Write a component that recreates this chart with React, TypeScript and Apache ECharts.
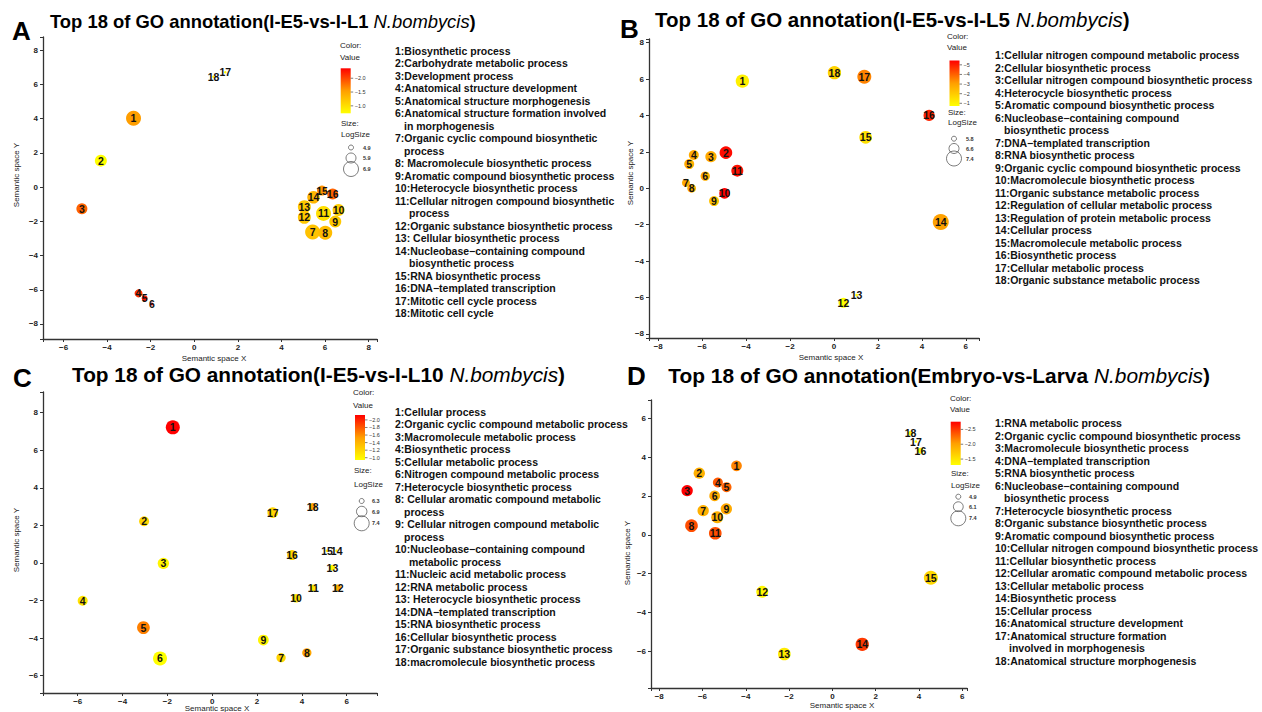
import React, { useEffect, useRef } from "react";
import * as echarts from "echarts";

const FONT = "'Liberation Sans', Arial, Helvetica, sans-serif";
const RED = "#ff0000";
const ORANGE = "#ff9f00";
const YELLOW = "#ffff00";

// ---------------- Panel A : I-E5-vs-I-L1 ----------------
const aComparison = "I-E5-vs-I-L1";
const aX = [-2.79, -4.29, -5.16, -2.56, -2.28, -1.95, 5.43, 6.01, 6.47, 6.62, 5.93, 5.05, 5.05, 5.47, 5.86, 6.35, 1.42, 0.88];
const aY = [4.01, 1.54, -1.27, -6.21, -6.5, -6.83, -2.63, -2.67, -2.02, -1.34, -1.54, -1.77, -1.15, -0.6, -0.21, -0.41, 6.7, 6.44];
const aValue = [-1.55, -0.73, -1.85, -2.1, -2.25, -2.36, -1.25, -1.3, -1.2, -1.15, -1.0, -1.2, -1.2, -1.35, -1.6, -1.85, -0.8, -0.8];
const aLogSize = [6.9, 6.3, 6.1, 5.5, 5.1, 4.5, 6.9, 6.7, 6.3, 6.3, 6.9, 6.5, 6.5, 6.4, 5.9, 6.1, 4.4, 4.4];
const aTerms = [
  "Biosynthetic process",
  "Carbohydrate metabolic process",
  "Development process",
  "Anatomical structure development",
  "Anatomical structure morphogenesis",
  "Anatomical structure formation involved|in morphogenesis",
  "Organic cyclic compound biosynthetic|process",
  " Macromolecule biosynthetic process",
  "Aromatic compound biosynthetic process",
  "Heterocycle biosynthetic process",
  "Cellular nitrogen compound biosynthetic|process",
  "Organic substance biosynthetic process",
  " Cellular biosynthetic process",
  "Nucleobase\u2212containing compound|biosynthetic process",
  "RNA biosynthetic process",
  "DNA\u2212templated transcription",
  "Mitotic cell cycle process",
  "Mitotic cell cycle",
];
const aColorTicks = [-2.0, -1.5, -1.0];
const aSizeTicks = [4.9, 5.9, 6.9];

// ---------------- Panel B : I-E5-vs-I-L5 ----------------
const bComparison = "I-E5-vs-I-L5";
const bX = [-4.17, -4.92, -5.6, -6.38, -6.59, -5.86, -6.74, -6.48, -5.46, -4.98, -4.4, 0.43, 1.03, 4.86, 1.44, 4.33, 1.38, 0.02];
const bY = [5.89, 1.96, 1.74, 1.83, 1.33, 0.67, 0.31, 0.0, -0.7, -0.28, 0.97, -6.29, -5.86, -1.85, 2.8, 4.0, 6.13, 6.35];
const bValue = [-1.1, -5.3, -2.8, -2.8, -2.7, -2.7, -2.8, -2.7, -2.2, -5.45, -5.2, -0.72, -0.9, -3.0, -1.5, -4.9, -3.5, -1.8];
const bLogSize = [7.13, 7.03, 6.8, 6.6, 6.6, 6.5, 6.28, 6.39, 6.6, 6.7, 6.92, 6.6, 5.43, 7.56, 7.03, 6.8, 7.24, 7.13];
const bTerms = [
  "Cellular nitrogen compound metabolic process",
  "Cellular biosynthetic process",
  "Cellular nitrogen compound biosynthetic process",
  "Heterocycle biosynthetic process",
  "Aromatic compound biosynthetic process",
  "Nucleobase\u2212containing compound|biosynthetic process",
  "DNA\u2212templated transcription",
  "RNA biosynthetic process",
  "Organic cyclic compound biosynthetic process",
  "Macromolecule biosynthetic process",
  "Organic substance metabolic process",
  "Regulation of cellular metabolic process",
  "Regulation of protein metabolic process",
  "Cellular process",
  "Macromolecule metabolic process",
  "Biosynthetic process",
  "Cellular metabolic process",
  "Organic substance metabolic process",
];
const bColorTicks = [-5, -4, -3, -2, -1];
const bSizeTicks = [5.8, 6.6, 7.4];

// ---------------- Panel C : I-E5-vs-I-L10 ----------------
const cComparison = "I-E5-vs-I-L10";
const cX = [-1.76, -3.04, -2.18, -5.78, -3.07, -2.33, 3.07, 4.22, 2.28, 3.74, 4.51, 5.6, 5.36, 5.55, 5.12, 3.56, 2.7, 4.48];
const cY = [7.22, 2.22, -0.02, -2.01, -3.44, -5.08, -5.04, -4.78, -4.1, -1.88, -1.32, -1.32, -0.25, 0.65, 0.65, 0.42, 2.68, 3.0];
const cValue = [-2.13, -1.2, -1.0, -1.1, -1.65, -0.94, -1.2, -1.5, -1.0, -1.12, -1.1, -1.45, -1.0, -1.0, -1.0, -1.2, -1.2, -1.5];
const cLogSize = [7.29, 6.85, 6.99, 6.85, 7.15, 7.29, 6.77, 6.77, 6.93, 6.7, 6.49, 6.49, 6.41, 6.05, 6.05, 6.85, 6.93, 6.56];
const cTerms = [
  "Cellular process",
  "Organic cyclic compound metabolic process",
  "Macromolecule metabolic process",
  "Biosynthetic process",
  "Cellular metabolic process",
  "Nitrogen compound metabolic process",
  "Heterocycle biosynthetic process",
  " Cellular aromatic compound metabolic|process",
  " Cellular nitrogen compound metabolic|process",
  "Nucleobase\u2212containing compound|metabolic process",
  "Nucleic acid metabolic process",
  "RNA metabolic process",
  " Heterocycle biosynthetic process",
  "DNA\u2212templated transcription",
  "RNA biosynthetic process",
  "Cellular biosynthetic process",
  "Organic substance biosynthetic process",
  "macromolecule biosynthetic process",
];
const cColorTicks = [-2.0, -1.8, -1.6, -1.4, -1.2, -1.0];
const cSizeTicks = [6.3, 6.9, 7.4];

// ---------------- Panel D : Embryo-vs-Larva ----------------
const dComparison = "Embryo-vs-Larva";
const dX = [-4.43, -6.15, -6.71, -5.29, -4.89, -5.44, -5.97, -6.51, -4.9, -5.32, -5.41, -3.24, -2.22, 1.38, 4.55, 4.07, 3.86, 3.61];
const dY = [3.55, 3.17, 2.27, 2.69, 2.45, 2.0, 1.24, 0.47, 1.33, 0.9, 0.08, -2.94, -6.14, -5.64, -2.21, 4.33, 4.8, 5.23];
const dValue = [-2.15, -1.9, -2.76, -2.35, -2.3, -1.95, -1.9, -2.4, -1.95, -1.9, -2.4, -1.35, -1.45, -2.5, -1.6, -1.32, -1.3, -1.32];
const dLogSize = [6.32, 6.48, 6.48, 6.15, 6.15, 6.32, 6.48, 6.82, 6.48, 6.65, 6.82, 6.65, 6.82, 6.98, 7.15, 5.15, 4.3, 4.83];
const dTerms = [
  "RNA metabolic process",
  "Organic cyclic compound biosynthetic process",
  "Macromolecule biosynthetic process",
  "DNA\u2212templated transcription",
  "RNA biosynthetic process",
  "Nucleobase\u2212containing compound|biosynthetic process",
  "Heterocycle biosynthetic process",
  "Organic substance biosynthetic process",
  "Aromatic compound biosynthetic process",
  "Cellular nitrogen compound biosynthetic process",
  "Cellular biosynthetic process",
  "Cellular aromatic compound metabolic process",
  "Cellular metabolic process",
  "Biosynthetic process",
  "Cellular process",
  "Anatomical structure development",
  "Anatomical structure formation|involved in morphogenesis",
  "Anatomical structure morphogenesis",
];
const dColorTicks = [-2.5, -2.0, -1.5];
const dSizeTicks = [4.9, 6.1, 7.4];

const panelData = [
  { letter: "A", comparison: aComparison, xs: aX, ys: aY, values: aValue, logSizes: aLogSize, terms: aTerms, colorTicks: aColorTicks, sizeTicks: aSizeTicks },
  { letter: "B", comparison: bComparison, xs: bX, ys: bY, values: bValue, logSizes: bLogSize, terms: bTerms, colorTicks: bColorTicks, sizeTicks: bSizeTicks },
  { letter: "C", comparison: cComparison, xs: cX, ys: cY, values: cValue, logSizes: cLogSize, terms: cTerms, colorTicks: cColorTicks, sizeTicks: cSizeTicks },
  { letter: "D", comparison: dComparison, xs: dX, ys: dY, values: dValue, logSizes: dLogSize, terms: dTerms, colorTicks: dColorTicks, sizeTicks: dSizeTicks },
];

// ---------------- layout (positions only) ----------------
const layouts = [
  {
    grid: { left: 43, top: 37, width: 334, height: 302 },
    xRange: [-6.945, 8.385], yRange: [-8.876, 8.76],
    letter: [12, 31], title: [50, 21.3], titleSize: 18.4,
    yName: [16, 175], xName: [214, 358],
    colorX: 340, colorY: 45, valueY: 57.7, barX: 340.7, barTop: 68.3, barH: 45,
    sizeY: 123.3, logY: 134.3, circX: 351, circY: [147.5, 158, 169], circLabelX: 363,
    list: [395, 50.7],
  },
  {
    grid: { left: 649, top: 39, width: 330, height: 299 },
    xRange: [-8.42, 6.6], yRange: [-8.22, 8.2],
    letter: [620, 29], title: [655, 19.5], titleSize: 20.5,
    yName: [630, 173], xName: [831, 357.7],
    colorX: 947, colorY: 36, valueY: 47.5, barX: 949.5, barTop: 60.5, barH: 45.5,
    sizeY: 112.7, logY: 122.3, circX: 954, circY: [138.7, 148.5, 158.5], circLabelX: 966,
    list: [995, 55],
  },
  {
    grid: { left: 43, top: 392, width: 334, height: 301 },
    xRange: [-7.55, 7.35], yRange: [-6.92, 9.1],
    letter: [13, 378], title: [72, 374], titleSize: 20.8,
    yName: [16.7, 540], xName: [217, 708],
    colorX: 353, colorY: 392.7, valueY: 405, barX: 355, barTop: 415, barH: 45,
    sizeY: 470, logY: 484.3, circX: 361.7, circY: [501, 511.5, 523.3], circLabelX: 372,
    list: [395, 411.7],
  },
  {
    grid: { left: 651, top: 400, width: 316, height: 288 },
    xRange: [-8.38, 6.22], yRange: [-7.89, 6.94],
    letter: [627, 376], title: [668.3, 375], titleSize: 20.9,
    yName: [627, 553], xName: [842, 705],
    colorX: 950, colorY: 398.3, valueY: 409.3, barX: 950.7, barTop: 421.7, barH: 43.3,
    sizeY: 473.3, logY: 485.3, circX: 958.3, circY: [496.7, 506.7, 518.3], circLabelX: 969,
    list: [995, 423.3],
  },
];

const LINE_H = 12.5;

function fmtTick(v: number): string {
  const q = v / 2;
  if (Math.abs(q - Math.round(q)) > 1e-6) return "";
  return String(Math.round(v)).replace("-", "\u2212");
}

function fmtBar(v: number, decimals: number): string {
  return v.toFixed(decimals).replace("-", "\u2212");
}

function buildOption() {
  const grid: any[] = [];
  const xAxis: any[] = [];
  const yAxis: any[] = [];
  const series: any[] = [];
  const visualMap: any[] = [];
  const els: any[] = [];

  panelData.forEach((d, i) => {
    const L = layouts[i];
    const vmin = Math.min(...d.values);
    const vmax = Math.max(...d.values);
    const t0 = d.sizeTicks[0];
    const t2 = d.sizeTicks[d.sizeTicks.length - 1];
    const sz = (s: number) => Math.max(2, 5 + ((s - t0) / (t2 - t0)) * 10);

    grid.push({ ...L.grid, containLabel: false, outerBoundsMode: "none" });

    const axisCommon = {
      type: "value",
      gridIndex: i,
      minInterval: 2,
      maxInterval: 2,
      splitLine: { show: false },
      axisLine: { show: true, onZero: false, lineStyle: { color: "#333", width: 1.3 } },
      axisTick: { show: true, length: 3, lineStyle: { color: "#333", width: 1 } },
    };
    xAxis.push({
      ...axisCommon,
      min: L.xRange[0],
      max: L.xRange[1],
      axisLabel: { fontSize: 8, fontWeight: "bold", color: "#222", fontFamily: FONT, margin: 4, formatter: fmtTick },
    });
    yAxis.push({
      ...axisCommon,
      min: L.yRange[0],
      max: L.yRange[1],
      axisLabel: { fontSize: 8, fontWeight: "bold", color: "#222", fontFamily: FONT, margin: 5, formatter: fmtTick },
    });

    series.push({
      type: "scatter",
      xAxisIndex: i,
      yAxisIndex: i,
      silent: true,
      data: d.xs.map((x, j) => [x, d.ys[j], d.values[j], d.logSizes[j], j + 1]),
      symbolSize: (v: number[]) => sz(v[3]),
      itemStyle: { opacity: 1 },
      label: {
        show: true,
        position: "inside",
        formatter: (p: any) => String(p.value[4]),
        fontSize: 10.5,
        fontWeight: "bold",
        color: "#111",
        fontFamily: FONT,
        textBorderWidth: 0,
      },
    });

    visualMap.push({
      type: "continuous",
      show: false,
      seriesIndex: i,
      dimension: 2,
      min: vmin,
      max: vmax,
      inRange: { color: [RED, ORANGE, YELLOW] },
    });

    // panel letter
    els.push({
      type: "text", x: L.letter[0], y: L.letter[1],
      style: { text: d.letter, fontSize: 26, fontWeight: "bold", fontFamily: FONT, fill: "#000", textVerticalAlign: "middle" },
    });
    // title
    els.push({
      type: "text", x: L.title[0], y: L.title[1],
      style: {
        text: `{b|Top 18 of GO annotation(${d.comparison} }{i|N.bombycis}{b|)}`,
        fill: "#000",
        textVerticalAlign: "middle",
        rich: {
          b: { fontSize: L.titleSize, fontWeight: "bold", fontFamily: FONT, fill: "#000" },
          i: { fontSize: L.titleSize, fontStyle: "italic", fontFamily: FONT, fill: "#000" },
        },
      },
    });
    // axis names
    els.push({
      type: "text", x: L.xName[0], y: L.xName[1],
      style: { text: "Semantic space X", fontSize: 8, fontFamily: FONT, fill: "#222", textAlign: "center", textVerticalAlign: "middle" },
    });
    els.push({
      type: "text", x: L.yName[0], y: L.yName[1], rotation: Math.PI / 2,
      style: { text: "Semantic space Y", fontSize: 8, fontFamily: FONT, fill: "#222", textAlign: "center", textVerticalAlign: "middle" },
    });

    // colour legend
    const small = { fontSize: 8, fontFamily: FONT, fill: "#222", textVerticalAlign: "middle" };
    els.push({ type: "text", x: L.colorX, y: L.colorY, style: { ...small, text: "Color:" } });
    els.push({ type: "text", x: L.colorX, y: L.valueY, style: { ...small, text: "Value" } });
    const barW = 10;
    els.push({
      type: "rect",
      shape: { x: L.barX, y: L.barTop, width: barW, height: L.barH },
      style: {
        fill: new echarts.graphic.LinearGradient(0, 0, 0, 1, [
          { offset: 0, color: RED },
          { offset: 0.5, color: ORANGE },
          { offset: 1, color: YELLOW },
        ]),
      },
    });
    const decimals = i === 1 ? 0 : 1;
    d.colorTicks.forEach((t) => {
      const y = L.barTop + ((t - vmin) / (vmax - vmin)) * L.barH;
      els.push({
        type: "line",
        shape: { x1: L.barX + barW, y1: y, x2: L.barX + barW + 2.5, y2: y },
        style: { stroke: "#444", lineWidth: 0.7 },
      });
      els.push({
        type: "text", x: L.barX + barW + 4, y,
        style: { text: fmtBar(t, decimals), fontSize: 5.5, fontFamily: FONT, fill: "#333", textVerticalAlign: "middle" },
      });
    });

    // size legend
    els.push({ type: "text", x: L.colorX + 1, y: L.sizeY, style: { ...small, text: "Size:" } });
    els.push({ type: "text", x: L.colorX + 1, y: L.logY, style: { ...small, text: "LogSize" } });
    d.sizeTicks.forEach((s, k) => {
      els.push({
        type: "circle",
        shape: { cx: L.circX, cy: L.circY[k], r: sz(s) / 2 },
        style: { fill: "none", stroke: "#444", lineWidth: 0.7 },
      });
      els.push({
        type: "text", x: L.circLabelX, y: L.circY[k],
        style: { text: s.toFixed(1), fontSize: 5.5, fontWeight: "bold", fontFamily: FONT, fill: "#333", textVerticalAlign: "middle" },
      });
    });

    // term list
    let line = 0;
    d.terms.forEach((term, j) => {
      const parts = term.split("|");
      parts.forEach((pt, k) => {
        const indent = k === 0 ? 0 : j + 1 >= 10 ? 14 : 9;
        els.push({
          type: "text",
          x: L.list[0] + indent,
          y: L.list[1] + line * LINE_H,
          style: {
            text: k === 0 ? `${j + 1}:${pt}` : pt,
            fontSize: 10.5,
            fontWeight: "bold",
            fontFamily: FONT,
            fill: "#111",
            textVerticalAlign: "middle",
          },
        });
        line++;
      });
    });
  });

  return {
    animation: false,
    backgroundColor: "#ffffff",
    grid,
    xAxis,
    yAxis,
    visualMap,
    series,
    graphic: { elements: els },
  };
}

export default function App() {
  const ref = useRef<HTMLDivElement>(null);
  useEffect(() => {
    if (!ref.current) return;
    const chart = echarts.init(ref.current, undefined, { renderer: "svg" });
    chart.setOption(buildOption() as any);
    return () => chart.dispose();
  }, []);
  return (
    <div
      ref={ref}
      style={{ position: "fixed", left: 0, top: 0, width: 1262, height: 712, background: "#fff" }}
    />
  );
}
